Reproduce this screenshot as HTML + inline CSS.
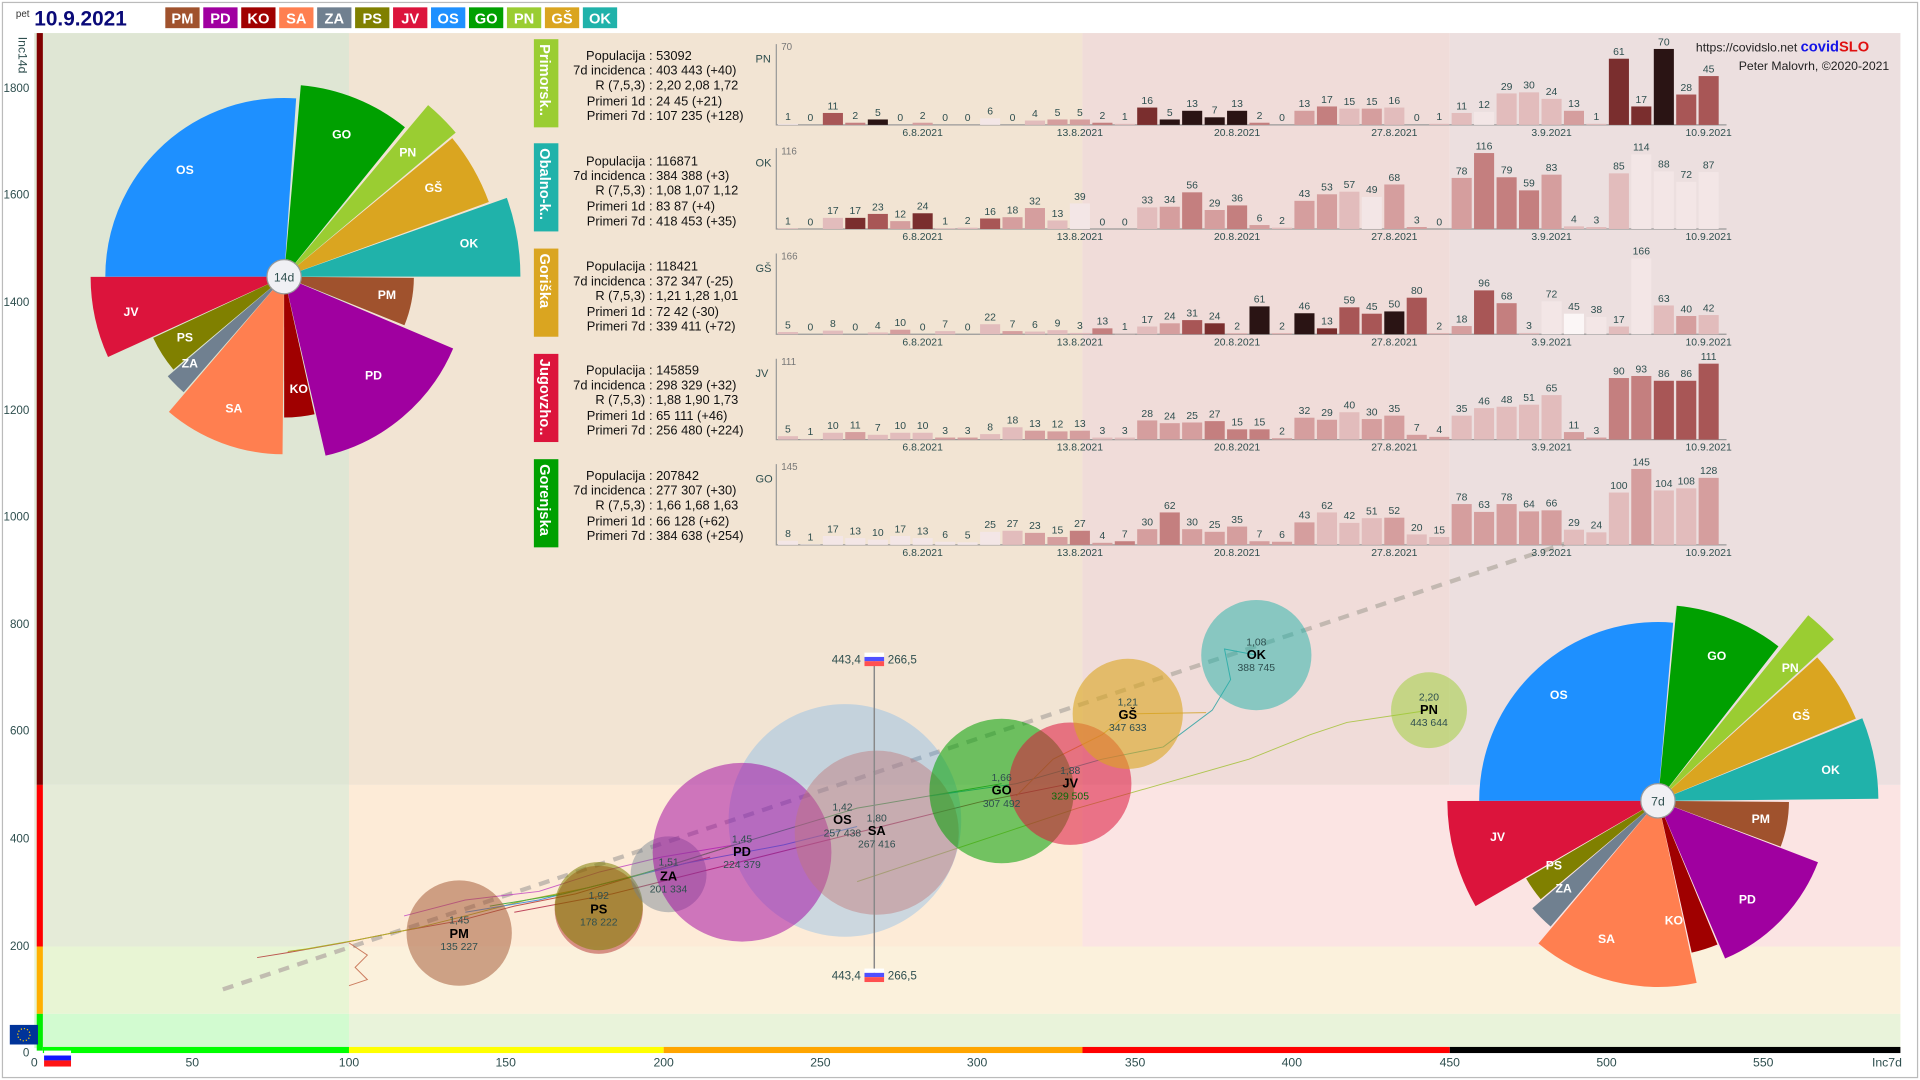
<!DOCTYPE html>
<html><head><meta charset="utf-8"><style>
html,body{margin:0;padding:0;background:#fff;}
svg{display:block;font-family:"Liberation Sans",sans-serif;}
.t{font-size:10.5px;fill:#111;}
.bl{font-size:8.5px;fill:#2f4f4f;text-anchor:middle;}
.tk{font-size:9px;fill:#2f4f4f;text-anchor:middle;}
.yl{font-size:9.5px;fill:#2f4f4f;text-anchor:end;}
.a{fill:#f3e6e6}.b{fill:#e2bcbc}.c{fill:#d59e9e}.d{fill:#c47f7f}.e{fill:#a85656}.f{fill:#7a2e2e}.g{fill:#2a1414}
.pl{font-size:10px;fill:#fff;font-weight:bold;text-anchor:middle;}
.bt{font-size:8.5px;fill:#2f4f4f;text-anchor:middle;}
.bn{font-size:10.5px;fill:#000;font-weight:bold;text-anchor:middle;}
</style></head><body>
<svg width="1920" height="1080" viewBox="0 0 1568 882" xmlns="http://www.w3.org/2000/svg">
<rect x="0" y="0" width="1568" height="882" fill="#fff"/>
<!-- background zones -->
<rect x="28" y="27" width="257" height="614" fill="#dfe6d4"/>
<rect x="285" y="27" width="599" height="614" fill="#f2e4d3"/>
<rect x="884" y="27" width="300" height="614" fill="#f0dcd9"/>
<rect x="1184" y="27" width="368" height="614" fill="#ecdfdf"/>
<rect x="28" y="641" width="257" height="132" fill="#e5ebd8"/>
<rect x="285" y="641" width="599" height="132" fill="#fdebd7"/>
<rect x="884" y="641" width="668" height="132" fill="#fbe4e3"/>
<rect x="28" y="773" width="257" height="55" fill="#e8f5d4"/>
<rect x="285" y="773" width="1267" height="55" fill="#fbf1dc"/>
<rect x="28" y="828" width="257" height="28" fill="#d2fbd0"/>
<rect x="285" y="828" width="1267" height="28" fill="#e9f3da"/>
<!-- left and bottom colour bars -->
<rect x="30" y="27" width="5" height="614" fill="#800000"/>
<rect x="30" y="641" width="5" height="132" fill="#ff0000"/>
<rect x="30" y="773" width="5" height="55" fill="#ffb000"/>
<rect x="30" y="828" width="5" height="30" fill="#00ee00"/>
<rect x="35" y="855" width="250" height="5" fill="#00ff00"/>
<rect x="285" y="855" width="257" height="5" fill="#ffff00"/>
<rect x="542" y="855" width="342" height="5" fill="#ffa500"/>
<rect x="884" y="855" width="300" height="5" fill="#ff0000"/>
<rect x="1184" y="855" width="368" height="5" fill="#000"/>
<rect x="2" y="2" width="1564" height="878" fill="none" stroke="#bbb" stroke-width="1"/>
<!-- header -->
<text x="13" y="14" style="font-size:8px;fill:#333">pet</text>
<text x="28" y="21" style="font-size:17px;font-weight:bold;fill:#0a0a78">10.9.2021</text>
<g style="font-size:12px;font-weight:bold;fill:#fff" text-anchor="middle">
<rect x="135" y="6" width="28" height="17" fill="#a0522d"/><text x="149" y="19">PM</text>
<rect x="166" y="6" width="28" height="17" fill="#a000a0"/><text x="180" y="19">PD</text>
<rect x="197" y="6" width="28" height="17" fill="#a00000"/><text x="211" y="19">KO</text>
<rect x="228" y="6" width="28" height="17" fill="#ff7f50"/><text x="242" y="19">SA</text>
<rect x="259" y="6" width="28" height="17" fill="#708090"/><text x="273" y="19">ZA</text>
<rect x="290" y="6" width="28" height="17" fill="#808000"/><text x="304" y="19">PS</text>
<rect x="321" y="6" width="28" height="17" fill="#dc143c"/><text x="335" y="19">JV</text>
<rect x="352" y="6" width="28" height="17" fill="#1e90ff"/><text x="366" y="19">OS</text>
<rect x="383" y="6" width="28" height="17" fill="#00a000"/><text x="397" y="19">GO</text>
<rect x="414" y="6" width="28" height="17" fill="#9acd32"/><text x="428" y="19">PN</text>
<rect x="445" y="6" width="28" height="17" fill="#daa520"/><text x="459" y="19">GŠ</text>
<rect x="476" y="6" width="28" height="17" fill="#20b2aa"/><text x="490" y="19">OK</text>
</g>
<text x="1385" y="42" style="font-size:10px;fill:#222">https://covidslo.net <tspan style="font-size:12px;font-weight:bold;fill:#1414e6">covid</tspan><tspan style="font-size:12px;font-weight:bold;fill:#e01010">SLO</tspan></text>
<text x="1420" y="57" style="font-size:10px;fill:#222">Peter Malovrh, ©2020-2021</text>
<!-- y axis -->
<text transform="translate(15,30) rotate(90)" style="font-size:10px;fill:#2f4f4f">Inc14d</text>
<g class="yl">
<text x="24" y="75">1800</text><text x="24" y="162">1600</text><text x="24" y="250">1400</text><text x="24" y="338">1200</text><text x="24" y="425">1000</text><text x="24" y="513">800</text><text x="24" y="600">600</text><text x="24" y="688">400</text><text x="24" y="776">200</text><text x="24" y="863">0</text>
</g>
<g class="tk" style="font-size:10px">
<text x="28" y="871">0</text><text x="157" y="871">50</text><text x="285" y="871">100</text><text x="413" y="871">150</text><text x="542" y="871">200</text><text x="670" y="871">250</text><text x="798" y="871">300</text><text x="927" y="871">350</text><text x="1055" y="871">400</text><text x="1184" y="871">450</text><text x="1312" y="871">500</text><text x="1440" y="871">550</text><text x="1541" y="871">Inc7d</text>
</g>
<rect x="8" y="837" width="23" height="16" fill="#003399"/>
<circle cx="19.5" cy="845" r="5" fill="none" stroke="#ffcc00" stroke-width="1" stroke-dasharray="1 1.6"/>
<rect x="36" y="858" width="22" height="4" fill="#fff"/><rect x="36" y="862" width="22" height="4" fill="#1414ff"/><rect x="36" y="866" width="22" height="5" fill="#ff1414"/>

<!-- dashed trend -->
<line x1="182" y1="808" x2="1290" y2="440" stroke="#b8b0a8" stroke-width="3.5" stroke-dasharray="9 7" opacity="0.8"/>
<!-- trails -->
<g fill="none" stroke-width="0.8" opacity="0.8">
<polyline points="210,782 235,778 280,770 330,760 375,752 420,740 470,730 520,715 580,700" stroke="#b03030"/>
<polyline points="235,777 250,775 290,768 340,758 380,748 430,735 480,725 530,712 600,690" stroke="#a0a000"/>
<polyline points="285,770 300,780 290,790 300,800 285,805" stroke="#c06040"/>
<polyline points="330,748 380,735 440,728 490,712 540,700 600,690" stroke="#c040c0"/>
<polyline points="380,745 440,735 500,720 560,705 640,690 700,675" stroke="#2080e0"/>
<polyline points="400,740 460,730 520,715 600,690 700,660 818,640" stroke="#20a020"/>
<polyline points="420,745 500,730 580,710 700,680 800,655 874,640" stroke="#b02040"/>
<polyline points="700,720 760,700 820,680 880,660 950,640 1020,620 1070,600 1100,590 1167,580" stroke="#a0c030"/>
<polyline points="760,650 830,640 900,620 950,610 990,580 1005,555 1000,530 1026,535" stroke="#20a0a0"/>
<polyline points="830,650 860,620 900,600 921,583 985,582" stroke="#d0a020"/>
</g>
<!-- bubbles -->
<circle cx="690" cy="670" r="95" fill="#1e90ff" opacity="0.22"/>
<circle cx="375" cy="762" r="43" fill="#a0522d" opacity="0.5"/>
<circle cx="489" cy="743" r="36" fill="#a00000" opacity="0.4"/>
<circle cx="489" cy="740" r="36" fill="#808000" opacity="0.55"/>
<circle cx="546" cy="714" r="31" fill="#708090" opacity="0.45"/>
<circle cx="606" cy="696" r="73" fill="#a000a0" opacity="0.5"/>
<circle cx="716" cy="680" r="67" fill="#c07878" opacity="0.45"/>
<circle cx="818" cy="646" r="59" fill="#00a000" opacity="0.55"/>
<circle cx="874" cy="640" r="50" fill="#dc143c" opacity="0.55"/>
<circle cx="921" cy="583" r="45" fill="#daa520" opacity="0.6"/>
<circle cx="1026" cy="535" r="45" fill="#20b2aa" opacity="0.5"/>
<circle cx="1167" cy="580" r="31" fill="#9acd32" opacity="0.5"/>
<!-- SI marker -->
<line x1="714" y1="540" x2="714" y2="795" stroke="#888" stroke-width="1.2"/>
<rect x="706" y="533" width="16" height="3.5" fill="#fff"/><rect x="706" y="536.5" width="16" height="3.5" fill="#5050ff"/><rect x="706" y="540" width="16" height="4" fill="#ff5050"/>
<rect x="706" y="791" width="16" height="3.5" fill="#fff"/><rect x="706" y="794.5" width="16" height="3.5" fill="#5050ff"/><rect x="706" y="798" width="16" height="4" fill="#ff5050"/>
<g style="font-size:9.5px;fill:#2f4f4f">
<text x="703" y="542" text-anchor="end">443,4</text><text x="725" y="542">266,5</text>
<text x="703" y="800" text-anchor="end">443,4</text><text x="725" y="800">266,5</text>
</g>
<g>
<text class="bt" x="375" y="754">1,45</text><text class="bn" x="375" y="766">PM</text><text class="bt" x="375" y="776">135 227</text>
<text class="bt" x="489" y="734">1,92</text><text class="bn" x="489" y="746">PS</text><text class="bt" x="489" y="756">178 222</text>
<text class="bt" x="546" y="707">1,51</text><text class="bn" x="546" y="719">ZA</text><text class="bt" x="546" y="729">201 334</text>
<text class="bt" x="606" y="688">1,45</text><text class="bn" x="606" y="699">PD</text><text class="bt" x="606" y="709">224 379</text>
<text class="bt" x="688" y="662">1,42</text><text class="bn" x="688" y="673">OS</text><text class="bt" x="688" y="683">257 438</text>
<text class="bt" x="716" y="671">1,80</text><text class="bn" x="716" y="682">SA</text><text class="bt" x="716" y="692">267 416</text>
<text class="bt" x="818" y="638">1,66</text><text class="bn" x="818" y="649">GO</text><text class="bt" x="818" y="659">307 492</text>
<text class="bt" x="874" y="632">1,88</text><text class="bn" x="874" y="643">JV</text><text class="bt" x="874" y="653" style="fill:#0a6a0a">329 505</text>
<text class="bt" x="921" y="576">1,21</text><text class="bn" x="921" y="587">GŠ</text><text class="bt" x="921" y="597">347 633</text>
<text class="bt" x="1026" y="527">1,08</text><text class="bn" x="1026" y="538">OK</text><text class="bt" x="1026" y="548">388 745</text>
<text class="bt" x="1167" y="572">2,20</text><text class="bn" x="1167" y="583">PN</text><text class="bt" x="1167" y="593">443 644</text>
</g>

<!-- left pie 14d -->
<g fill="none" stroke-width="1">
<circle cx="232" cy="226" r="73" stroke="#1e90ff" stroke-width="146" pathLength="360" stroke-dasharray="94 400" transform="rotate(180 232 226)"/>
<circle cx="232" cy="226" r="78.5" stroke="#00a000" stroke-width="157" pathLength="360" stroke-dasharray="34 400" transform="rotate(275 232 226)"/>
<circle cx="232" cy="226" r="91.5" stroke="#9acd32" stroke-width="183" pathLength="360" stroke-dasharray="10 400" transform="rotate(310 232 226)"/>
<circle cx="232" cy="226" r="89" stroke="#daa520" stroke-width="178" pathLength="360" stroke-dasharray="19.5 400" transform="rotate(320.5 232 226)"/>
<circle cx="232" cy="226" r="96.5" stroke="#20b2aa" stroke-width="193" pathLength="360" stroke-dasharray="19.5 400" transform="rotate(340.5 232 226)"/>
<circle cx="232" cy="226" r="53" stroke="#a0522d" stroke-width="106" pathLength="360" stroke-dasharray="21.5 400" transform="rotate(0.5 232 226)"/>
<circle cx="232" cy="226" r="75" stroke="#a000a0" stroke-width="150" pathLength="360" stroke-dasharray="54 400" transform="rotate(23 232 226)"/>
<circle cx="232" cy="226" r="57.5" stroke="#a00000" stroke-width="115" pathLength="360" stroke-dasharray="12.5 400" transform="rotate(77.5 232 226)"/>
<circle cx="232" cy="226" r="72.5" stroke="#ff7f50" stroke-width="145" pathLength="360" stroke-dasharray="40 400" transform="rotate(90.5 232 226)"/>
<circle cx="232" cy="226" r="62.5" stroke="#708090" stroke-width="125" pathLength="360" stroke-dasharray="8.5 400" transform="rotate(131 232 226)"/>
<circle cx="232" cy="226" r="59" stroke="#808000" stroke-width="118" pathLength="360" stroke-dasharray="15 400" transform="rotate(140 232 226)"/>
<circle cx="232" cy="226" r="79" stroke="#dc143c" stroke-width="158" pathLength="360" stroke-dasharray="24.5 400" transform="rotate(155.5 232 226)"/>
</g>
<circle cx="232" cy="226" r="14" fill="#f0f0f4" stroke="#999" stroke-width="1"/>
<text x="232" y="230" style="font-size:10px;fill:#2f4f4f" text-anchor="middle">14d</text>
<g class="pl">
<text x="151" y="142">OS</text><text x="279" y="113">GO</text><text x="333" y="128">PN</text><text x="354" y="157">GŠ</text><text x="383" y="202">OK</text><text x="316" y="244">PM</text><text x="305" y="310">PD</text><text x="244" y="321">KO</text><text x="191" y="337">SA</text><text x="155" y="300">ZA</text><text x="151" y="279">PS</text><text x="107" y="258">JV</text>
</g>

<!-- right pie 7d -->
<g fill="none">
<circle cx="1354" cy="654" r="73" stroke="#1e90ff" stroke-width="146" pathLength="360" stroke-dasharray="95 400" transform="rotate(180 1354 654)"/>
<circle cx="1354" cy="654" r="80" stroke="#00a000" stroke-width="160" pathLength="360" stroke-dasharray="32.5 400" transform="rotate(275.5 1354 654)"/>
<circle cx="1354" cy="654" r="97.5" stroke="#9acd32" stroke-width="195" pathLength="360" stroke-dasharray="8.5 400" transform="rotate(309 1354 654)"/>
<circle cx="1354" cy="654" r="87.5" stroke="#daa520" stroke-width="175" pathLength="360" stroke-dasharray="19.5 400" transform="rotate(318 1354 654)"/>
<circle cx="1354" cy="654" r="90" stroke="#20b2aa" stroke-width="180" pathLength="360" stroke-dasharray="21.5 400" transform="rotate(338 1354 654)"/>
<circle cx="1354" cy="654" r="53.5" stroke="#a0522d" stroke-width="107" pathLength="360" stroke-dasharray="20 400" transform="rotate(0.5 1354 654)"/>
<circle cx="1354" cy="654" r="70" stroke="#a000a0" stroke-width="140" pathLength="360" stroke-dasharray="46 400" transform="rotate(21 1354 654)"/>
<circle cx="1354" cy="654" r="63.5" stroke="#a00000" stroke-width="127" pathLength="360" stroke-dasharray="10 400" transform="rotate(67.5 1354 654)"/>
<circle cx="1354" cy="654" r="76" stroke="#ff7f50" stroke-width="152" pathLength="360" stroke-dasharray="52 400" transform="rotate(78 1354 654)"/>
<circle cx="1354" cy="654" r="67.5" stroke="#708090" stroke-width="135" pathLength="360" stroke-dasharray="9 400" transform="rotate(130.5 1354 654)"/>
<circle cx="1354" cy="654" r="62.5" stroke="#808000" stroke-width="125" pathLength="360" stroke-dasharray="9.5 400" transform="rotate(140 1354 654)"/>
<circle cx="1354" cy="654" r="86" stroke="#dc143c" stroke-width="172" pathLength="360" stroke-dasharray="30 400" transform="rotate(150 1354 654)"/>
</g>
<circle cx="1354" cy="654" r="14" fill="#f0f0f4" stroke="#999" stroke-width="1"/>
<text x="1354" y="658" style="font-size:10px;fill:#2f4f4f" text-anchor="middle">7d</text>
<g class="pl">
<text x="1273" y="571">OS</text><text x="1402" y="539">GO</text><text x="1462" y="549">PN</text><text x="1471" y="588">GŠ</text><text x="1495" y="632">OK</text><text x="1438" y="672">PM</text><text x="1427" y="738">PD</text><text x="1367" y="755">KO</text><text x="1312" y="770">SA</text><text x="1277" y="729">ZA</text><text x="1269" y="710">PS</text><text x="1223" y="687">JV</text>
</g>

<!-- panel labels / text -->
<g style="font-size:12px;font-weight:bold;fill:#fff">
<rect x="436" y="32" width="20" height="72" fill="#9acd32"/><text transform="translate(441,36) rotate(90)">Primorsk..</text>
<rect x="436" y="117" width="20" height="72" fill="#20b2aa"/><text transform="translate(441,121) rotate(90)">Obalno-k..</text>
<rect x="436" y="203" width="20" height="72" fill="#daa520"/><text transform="translate(441,207) rotate(90)">Goriška</text>
<rect x="436" y="289" width="20" height="72" fill="#dc143c"/><text transform="translate(441,293) rotate(90)">Jugovzho..</text>
<rect x="436" y="375" width="20" height="72" fill="#00a000"/><text transform="translate(441,379) rotate(90)">Gorenjska</text>
</g>
<g class="t">
<g text-anchor="end">
<text x="527" y="49">Populacija</text><text x="527" y="61">7d incidenca</text><text x="527" y="73">R (7,5,3)</text><text x="527" y="86">Primeri 1d</text><text x="527" y="98">Primeri 7d</text>
<text x="527" y="135">Populacija</text><text x="527" y="147">7d incidenca</text><text x="527" y="159">R (7,5,3)</text><text x="527" y="172">Primeri 1d</text><text x="527" y="184">Primeri 7d</text>
<text x="527" y="221">Populacija</text><text x="527" y="233">7d incidenca</text><text x="527" y="245">R (7,5,3)</text><text x="527" y="258">Primeri 1d</text><text x="527" y="270">Primeri 7d</text>
<text x="527" y="306">Populacija</text><text x="527" y="318">7d incidenca</text><text x="527" y="330">R (7,5,3)</text><text x="527" y="343">Primeri 1d</text><text x="527" y="355">Primeri 7d</text>
<text x="527" y="392">Populacija</text><text x="527" y="404">7d incidenca</text><text x="527" y="416">R (7,5,3)</text><text x="527" y="429">Primeri 1d</text><text x="527" y="441">Primeri 7d</text>
</g>
<text x="530" y="49">: 53092</text><text x="530" y="61">: 403 443 (+40)</text><text x="530" y="73">: 2,20 2,08 1,72</text><text x="530" y="86">: 24 45 (+21)</text><text x="530" y="98">: 107 235 (+128)</text>
<text x="530" y="135">: 116871</text><text x="530" y="147">: 384 388 (+3)</text><text x="530" y="159">: 1,08 1,07 1,12</text><text x="530" y="172">: 83 87 (+4)</text><text x="530" y="184">: 418 453 (+35)</text>
<text x="530" y="221">: 118421</text><text x="530" y="233">: 372 347 (-25)</text><text x="530" y="245">: 1,21 1,28 1,01</text><text x="530" y="258">: 72 42 (-30)</text><text x="530" y="270">: 339 411 (+72)</text>
<text x="530" y="306">: 145859</text><text x="530" y="318">: 298 329 (+32)</text><text x="530" y="330">: 1,88 1,90 1,73</text><text x="530" y="343">: 65 111 (+46)</text><text x="530" y="355">: 256 480 (+224)</text>
<text x="530" y="392">: 207842</text><text x="530" y="404">: 277 307 (+30)</text><text x="530" y="416">: 1,66 1,68 1,63</text><text x="530" y="429">: 66 128 (+62)</text><text x="530" y="441">: 384 638 (+254)</text>
</g>

<!-- panel axes -->
<g stroke="#999" stroke-width="1">
<polyline points="634,36 634,102 1410,102" fill="none"/>
<polyline points="634,121 634,187 1410,187" fill="none"/>
<polyline points="634,207 634,273 1410,273" fill="none"/>
<polyline points="634,293 634,359 1410,359" fill="none"/>
<polyline points="634,379 634,445 1410,445" fill="none"/>
</g>
<g style="font-size:9px;fill:#2f4f4f">
<text x="617" y="51">PN</text><text x="617" y="136">OK</text><text x="617" y="222">GŠ</text><text x="617" y="308">JV</text><text x="617" y="394">GO</text>
</g>
<g style="font-size:8px;fill:#777">
<text x="638" y="41">70</text><text x="638" y="126">116</text><text x="638" y="212">166</text><text x="638" y="298">111</text><text x="638" y="384">145</text>
</g>
<g class="tk" style="font-size:8.5px">
<text x="753.5" y="111">6.8.2021</text><text x="881.9" y="111">13.8.2021</text><text x="1010.3" y="111">20.8.2021</text><text x="1138.7" y="111">27.8.2021</text><text x="1267.1" y="111">3.9.2021</text><text x="1395.4" y="111">10.9.2021</text>
<text x="753.5" y="196">6.8.2021</text><text x="881.9" y="196">13.8.2021</text><text x="1010.3" y="196">20.8.2021</text><text x="1138.7" y="196">27.8.2021</text><text x="1267.1" y="196">3.9.2021</text><text x="1395.4" y="196">10.9.2021</text>
<text x="753.5" y="282">6.8.2021</text><text x="881.9" y="282">13.8.2021</text><text x="1010.3" y="282">20.8.2021</text><text x="1138.7" y="282">27.8.2021</text><text x="1267.1" y="282">3.9.2021</text><text x="1395.4" y="282">10.9.2021</text>
<text x="753.5" y="368">6.8.2021</text><text x="881.9" y="368">13.8.2021</text><text x="1010.3" y="368">20.8.2021</text><text x="1138.7" y="368">27.8.2021</text><text x="1267.1" y="368">3.9.2021</text><text x="1395.4" y="368">10.9.2021</text>
<text x="753.5" y="454">6.8.2021</text><text x="881.9" y="454">13.8.2021</text><text x="1010.3" y="454">20.8.2021</text><text x="1138.7" y="454">27.8.2021</text><text x="1267.1" y="454">3.9.2021</text><text x="1395.4" y="454">10.9.2021</text>
</g>

<!-- PN bars k=0.886 -->
<g transform="translate(0,102) scale(1,0.886)">
<rect x="635.3" y="-1" width="16.4" height="1" class="a"/><text class="bl" x="643.5" y="-3" transform="translate(0,-1) scale(1,1.1287)">1</text>
<text class="bl" x="661.8" y="-3" transform="scale(1,1.1287)">0</text>
<rect x="672" y="-11" width="16.4" height="11" class="e"/><text class="bl" x="680.2" y="-3" transform="translate(0,-11) scale(1,1.1287)">11</text>
<rect x="690.3" y="-2" width="16.4" height="2" class="d"/><text class="bl" x="698.5" y="-3" transform="translate(0,-2) scale(1,1.1287)">2</text>
<rect x="708.7" y="-5" width="16.4" height="5" class="g"/><text class="bl" x="716.9" y="-3" transform="translate(0,-5) scale(1,1.1287)">5</text>
<text class="bl" x="735.2" y="-3" transform="scale(1,1.1287)">0</text>
<rect x="745.3" y="-2" width="16.4" height="2" class="c"/><text class="bl" x="753.5" y="-3" transform="translate(0,-2) scale(1,1.1287)">2</text>
<text class="bl" x="771.9" y="-3" transform="scale(1,1.1287)">0</text>
<text class="bl" x="790.2" y="-3" transform="scale(1,1.1287)">0</text>
<rect x="800.4" y="-6" width="16.4" height="6" class="a"/><text class="bl" x="808.6" y="-3" transform="translate(0,-6) scale(1,1.1287)">6</text>
<text class="bl" x="826.9" y="-3" transform="scale(1,1.1287)">0</text>
<rect x="837" y="-4" width="16.4" height="4" class="b"/><text class="bl" x="845.2" y="-3" transform="translate(0,-4) scale(1,1.1287)">4</text>
<rect x="855.4" y="-5" width="16.4" height="5" class="c"/><text class="bl" x="863.6" y="-3" transform="translate(0,-5) scale(1,1.1287)">5</text>
<rect x="873.7" y="-5" width="16.4" height="5" class="c"/><text class="bl" x="881.9" y="-3" transform="translate(0,-5) scale(1,1.1287)">5</text>
<rect x="892.1" y="-2" width="16.4" height="2" class="d"/><text class="bl" x="900.3" y="-3" transform="translate(0,-2) scale(1,1.1287)">2</text>
<rect x="910.4" y="-1" width="16.4" height="1" class="b"/><text class="bl" x="918.6" y="-3" transform="translate(0,-1) scale(1,1.1287)">1</text>
<rect x="928.7" y="-16" width="16.4" height="16" class="f"/><text class="bl" x="936.9" y="-3" transform="translate(0,-16) scale(1,1.1287)">16</text>
<rect x="947.1" y="-5" width="16.4" height="5" class="g"/><text class="bl" x="955.3" y="-3" transform="translate(0,-5) scale(1,1.1287)">5</text>
<rect x="965.4" y="-13" width="16.4" height="13" class="g"/><text class="bl" x="973.6" y="-3" transform="translate(0,-13) scale(1,1.1287)">13</text>
<rect x="983.8" y="-7" width="16.4" height="7" class="g"/><text class="bl" x="992" y="-3" transform="translate(0,-7) scale(1,1.1287)">7</text>
<rect x="1002.1" y="-13" width="16.4" height="13" class="g"/><text class="bl" x="1010.3" y="-3" transform="translate(0,-13) scale(1,1.1287)">13</text>
<rect x="1020.4" y="-2" width="16.4" height="2" class="d"/><text class="bl" x="1028.6" y="-3" transform="translate(0,-2) scale(1,1.1287)">2</text>
<text class="bl" x="1047" y="-3" transform="scale(1,1.1287)">0</text>
<rect x="1057.1" y="-13" width="16.4" height="13" class="c"/><text class="bl" x="1065.3" y="-3" transform="translate(0,-13) scale(1,1.1287)">13</text>
<rect x="1075.5" y="-17" width="16.4" height="17" class="d"/><text class="bl" x="1083.7" y="-3" transform="translate(0,-17) scale(1,1.1287)">17</text>
<rect x="1093.8" y="-15" width="16.4" height="15" class="b"/><text class="bl" x="1102" y="-3" transform="translate(0,-15) scale(1,1.1287)">15</text>
<rect x="1112.1" y="-15" width="16.4" height="15" class="c"/><text class="bl" x="1120.3" y="-3" transform="translate(0,-15) scale(1,1.1287)">15</text>
<rect x="1130.5" y="-16" width="16.4" height="16" class="b"/><text class="bl" x="1138.7" y="-3" transform="translate(0,-16) scale(1,1.1287)">16</text>
<text class="bl" x="1157" y="-3" transform="scale(1,1.1287)">0</text>
<rect x="1167.2" y="-1" width="16.4" height="1" class="b"/><text class="bl" x="1175.4" y="-3" transform="translate(0,-1) scale(1,1.1287)">1</text>
<rect x="1185.5" y="-11" width="16.4" height="11" class="b"/><text class="bl" x="1193.7" y="-3" transform="translate(0,-11) scale(1,1.1287)">11</text>
<rect x="1203.8" y="-12" width="16.4" height="12" class="a"/><text class="bl" x="1212" y="-3" transform="translate(0,-12) scale(1,1.1287)">12</text>
<rect x="1222.2" y="-29" width="16.4" height="29" class="b"/><text class="bl" x="1230.4" y="-3" transform="translate(0,-29) scale(1,1.1287)">29</text>
<rect x="1240.5" y="-30" width="16.4" height="30" class="b"/><text class="bl" x="1248.7" y="-3" transform="translate(0,-30) scale(1,1.1287)">30</text>
<rect x="1258.9" y="-24" width="16.4" height="24" class="b"/><text class="bl" x="1267.1" y="-3" transform="translate(0,-24) scale(1,1.1287)">24</text>
<rect x="1277.2" y="-13" width="16.4" height="13" class="c"/><text class="bl" x="1285.4" y="-3" transform="translate(0,-13) scale(1,1.1287)">13</text>
<rect x="1295.5" y="-1" width="16.4" height="1" class="b"/><text class="bl" x="1303.7" y="-3" transform="translate(0,-1) scale(1,1.1287)">1</text>
<rect x="1313.9" y="-61" width="16.4" height="61" class="f"/><text class="bl" x="1322.1" y="-3" transform="translate(0,-61) scale(1,1.1287)">61</text>
<rect x="1332.2" y="-17" width="16.4" height="17" class="f"/><text class="bl" x="1340.4" y="-3" transform="translate(0,-17) scale(1,1.1287)">17</text>
<rect x="1350.6" y="-70" width="16.4" height="70" class="g"/><text class="bl" x="1358.8" y="-3" transform="translate(0,-70) scale(1,1.1287)">70</text>
<rect x="1368.9" y="-28" width="16.4" height="28" class="e"/><text class="bl" x="1377.1" y="-3" transform="translate(0,-28) scale(1,1.1287)">28</text>
<rect x="1387.2" y="-45" width="16.4" height="45" class="e"/><text class="bl" x="1395.4" y="-3" transform="translate(0,-45) scale(1,1.1287)">45</text>
</g>

<!-- OK bars k=0.5345 -->
<g transform="translate(0,187) scale(1,0.5345)">
<rect x="635.3" y="-1" width="16.4" height="1" class="b"/><text class="bl" x="643.5" y="-3" transform="translate(0,-1) scale(1,1.871)">1</text>
<text class="bl" x="661.8" y="-3" transform="scale(1,1.871)">0</text>
<rect x="672" y="-17" width="16.4" height="17" class="b"/><text class="bl" x="680.2" y="-3" transform="translate(0,-17) scale(1,1.871)">17</text>
<rect x="690.3" y="-17" width="16.4" height="17" class="f"/><text class="bl" x="698.5" y="-3" transform="translate(0,-17) scale(1,1.871)">17</text>
<rect x="708.7" y="-23" width="16.4" height="23" class="e"/><text class="bl" x="716.9" y="-3" transform="translate(0,-23) scale(1,1.871)">23</text>
<rect x="727" y="-12" width="16.4" height="12" class="c"/><text class="bl" x="735.2" y="-3" transform="translate(0,-12) scale(1,1.871)">12</text>
<rect x="745.3" y="-24" width="16.4" height="24" class="f"/><text class="bl" x="753.5" y="-3" transform="translate(0,-24) scale(1,1.871)">24</text>
<rect x="763.7" y="-1" width="16.4" height="1" class="b"/><text class="bl" x="771.9" y="-3" transform="translate(0,-1) scale(1,1.871)">1</text>
<rect x="782" y="-2" width="16.4" height="2" class="b"/><text class="bl" x="790.2" y="-3" transform="translate(0,-2) scale(1,1.871)">2</text>
<rect x="800.4" y="-16" width="16.4" height="16" class="e"/><text class="bl" x="808.6" y="-3" transform="translate(0,-16) scale(1,1.871)">16</text>
<rect x="818.7" y="-18" width="16.4" height="18" class="c"/><text class="bl" x="826.9" y="-3" transform="translate(0,-18) scale(1,1.871)">18</text>
<rect x="837" y="-32" width="16.4" height="32" class="c"/><text class="bl" x="845.2" y="-3" transform="translate(0,-32) scale(1,1.871)">32</text>
<rect x="855.4" y="-13" width="16.4" height="13" class="b"/><text class="bl" x="863.6" y="-3" transform="translate(0,-13) scale(1,1.871)">13</text>
<rect x="873.7" y="-39" width="16.4" height="39" class="a"/><text class="bl" x="881.9" y="-3" transform="translate(0,-39) scale(1,1.871)">39</text>
<text class="bl" x="900.3" y="-3" transform="scale(1,1.871)">0</text>
<text class="bl" x="918.6" y="-3" transform="scale(1,1.871)">0</text>
<rect x="928.7" y="-33" width="16.4" height="33" class="b"/><text class="bl" x="936.9" y="-3" transform="translate(0,-33) scale(1,1.871)">33</text>
<rect x="947.1" y="-34" width="16.4" height="34" class="c"/><text class="bl" x="955.3" y="-3" transform="translate(0,-34) scale(1,1.871)">34</text>
<rect x="965.4" y="-56" width="16.4" height="56" class="d"/><text class="bl" x="973.6" y="-3" transform="translate(0,-56) scale(1,1.871)">56</text>
<rect x="983.8" y="-29" width="16.4" height="29" class="c"/><text class="bl" x="992" y="-3" transform="translate(0,-29) scale(1,1.871)">29</text>
<rect x="1002.1" y="-36" width="16.4" height="36" class="d"/><text class="bl" x="1010.3" y="-3" transform="translate(0,-36) scale(1,1.871)">36</text>
<rect x="1020.4" y="-6" width="16.4" height="6" class="c"/><text class="bl" x="1028.6" y="-3" transform="translate(0,-6) scale(1,1.871)">6</text>
<rect x="1038.8" y="-2" width="16.4" height="2" class="b"/><text class="bl" x="1047" y="-3" transform="translate(0,-2) scale(1,1.871)">2</text>
<rect x="1057.1" y="-43" width="16.4" height="43" class="c"/><text class="bl" x="1065.3" y="-3" transform="translate(0,-43) scale(1,1.871)">43</text>
<rect x="1075.5" y="-53" width="16.4" height="53" class="c"/><text class="bl" x="1083.7" y="-3" transform="translate(0,-53) scale(1,1.871)">53</text>
<rect x="1093.8" y="-57" width="16.4" height="57" class="b"/><text class="bl" x="1102" y="-3" transform="translate(0,-57) scale(1,1.871)">57</text>
<rect x="1112.1" y="-49" width="16.4" height="49" class="a"/><text class="bl" x="1120.3" y="-3" transform="translate(0,-49) scale(1,1.871)">49</text>
<rect x="1130.5" y="-68" width="16.4" height="68" class="c"/><text class="bl" x="1138.7" y="-3" transform="translate(0,-68) scale(1,1.871)">68</text>
<rect x="1148.8" y="-3" width="16.4" height="3" class="c"/><text class="bl" x="1157" y="-3" transform="translate(0,-3) scale(1,1.871)">3</text>
<text class="bl" x="1175.4" y="-3" transform="scale(1,1.871)">0</text>
<rect x="1185.5" y="-78" width="16.4" height="78" class="c"/><text class="bl" x="1193.7" y="-3" transform="translate(0,-78) scale(1,1.871)">78</text>
<rect x="1203.8" y="-116" width="16.4" height="116" class="d"/><text class="bl" x="1212" y="-3" transform="translate(0,-116) scale(1,1.871)">116</text>
<rect x="1222.2" y="-79" width="16.4" height="79" class="d"/><text class="bl" x="1230.4" y="-3" transform="translate(0,-79) scale(1,1.871)">79</text>
<rect x="1240.5" y="-59" width="16.4" height="59" class="d"/><text class="bl" x="1248.7" y="-3" transform="translate(0,-59) scale(1,1.871)">59</text>
<rect x="1258.9" y="-83" width="16.4" height="83" class="c"/><text class="bl" x="1267.1" y="-3" transform="translate(0,-83) scale(1,1.871)">83</text>
<rect x="1277.2" y="-4" width="16.4" height="4" class="b"/><text class="bl" x="1285.4" y="-3" transform="translate(0,-4) scale(1,1.871)">4</text>
<rect x="1295.5" y="-3" width="16.4" height="3" class="b"/><text class="bl" x="1303.7" y="-3" transform="translate(0,-3) scale(1,1.871)">3</text>
<rect x="1313.9" y="-85" width="16.4" height="85" class="b"/><text class="bl" x="1322.1" y="-3" transform="translate(0,-85) scale(1,1.871)">85</text>
<rect x="1332.2" y="-114" width="16.4" height="114" class="a"/><text class="bl" x="1340.4" y="-3" transform="translate(0,-114) scale(1,1.871)">114</text>
<rect x="1350.6" y="-88" width="16.4" height="88" class="a"/><text class="bl" x="1358.8" y="-3" transform="translate(0,-88) scale(1,1.871)">88</text>
<rect x="1368.9" y="-72" width="16.4" height="72" class="a"/><text class="bl" x="1377.1" y="-3" transform="translate(0,-72) scale(1,1.871)">72</text>
<rect x="1387.2" y="-87" width="16.4" height="87" class="a"/><text class="bl" x="1395.4" y="-3" transform="translate(0,-87) scale(1,1.871)">87</text>
</g>

<!-- GŠ bars k=0.3735 -->
<g transform="translate(0,273) scale(1,0.3735)">
<rect x="635.3" y="-5" width="16.4" height="5" class="b"/><text class="bl" x="643.5" y="-3" transform="translate(0,-5) scale(1,2.677)">5</text>
<text class="bl" x="661.8" y="-3" transform="scale(1,2.677)">0</text>
<rect x="672" y="-8" width="16.4" height="8" class="b"/><text class="bl" x="680.2" y="-3" transform="translate(0,-8) scale(1,2.677)">8</text>
<text class="bl" x="698.5" y="-3" transform="scale(1,2.677)">0</text>
<rect x="708.7" y="-4" width="16.4" height="4" class="b"/><text class="bl" x="716.9" y="-3" transform="translate(0,-4) scale(1,2.677)">4</text>
<rect x="727" y="-10" width="16.4" height="10" class="c"/><text class="bl" x="735.2" y="-3" transform="translate(0,-10) scale(1,2.677)">10</text>
<text class="bl" x="753.5" y="-3" transform="scale(1,2.677)">0</text>
<rect x="763.7" y="-7" width="16.4" height="7" class="b"/><text class="bl" x="771.9" y="-3" transform="translate(0,-7) scale(1,2.677)">7</text>
<text class="bl" x="790.2" y="-3" transform="scale(1,2.677)">0</text>
<rect x="800.4" y="-22" width="16.4" height="22" class="b"/><text class="bl" x="808.6" y="-3" transform="translate(0,-22) scale(1,2.677)">22</text>
<rect x="818.7" y="-7" width="16.4" height="7" class="c"/><text class="bl" x="826.9" y="-3" transform="translate(0,-7) scale(1,2.677)">7</text>
<rect x="837" y="-6" width="16.4" height="6" class="b"/><text class="bl" x="845.2" y="-3" transform="translate(0,-6) scale(1,2.677)">6</text>
<rect x="855.4" y="-9" width="16.4" height="9" class="b"/><text class="bl" x="863.6" y="-3" transform="translate(0,-9) scale(1,2.677)">9</text>
<rect x="873.7" y="-3" width="16.4" height="3" class="b"/><text class="bl" x="881.9" y="-3" transform="translate(0,-3) scale(1,2.677)">3</text>
<rect x="892.1" y="-13" width="16.4" height="13" class="d"/><text class="bl" x="900.3" y="-3" transform="translate(0,-13) scale(1,2.677)">13</text>
<rect x="910.4" y="-1" width="16.4" height="1" class="b"/><text class="bl" x="918.6" y="-3" transform="translate(0,-1) scale(1,2.677)">1</text>
<rect x="928.7" y="-17" width="16.4" height="17" class="b"/><text class="bl" x="936.9" y="-3" transform="translate(0,-17) scale(1,2.677)">17</text>
<rect x="947.1" y="-24" width="16.4" height="24" class="c"/><text class="bl" x="955.3" y="-3" transform="translate(0,-24) scale(1,2.677)">24</text>
<rect x="965.4" y="-31" width="16.4" height="31" class="e"/><text class="bl" x="973.6" y="-3" transform="translate(0,-31) scale(1,2.677)">31</text>
<rect x="983.8" y="-24" width="16.4" height="24" class="f"/><text class="bl" x="992" y="-3" transform="translate(0,-24) scale(1,2.677)">24</text>
<rect x="1002.1" y="-2" width="16.4" height="2" class="c"/><text class="bl" x="1010.3" y="-3" transform="translate(0,-2) scale(1,2.677)">2</text>
<rect x="1020.4" y="-61" width="16.4" height="61" class="g"/><text class="bl" x="1028.6" y="-3" transform="translate(0,-61) scale(1,2.677)">61</text>
<rect x="1038.8" y="-2" width="16.4" height="2" class="c"/><text class="bl" x="1047" y="-3" transform="translate(0,-2) scale(1,2.677)">2</text>
<rect x="1057.1" y="-46" width="16.4" height="46" class="g"/><text class="bl" x="1065.3" y="-3" transform="translate(0,-46) scale(1,2.677)">46</text>
<rect x="1075.5" y="-13" width="16.4" height="13" class="f"/><text class="bl" x="1083.7" y="-3" transform="translate(0,-13) scale(1,2.677)">13</text>
<rect x="1093.8" y="-59" width="16.4" height="59" class="e"/><text class="bl" x="1102" y="-3" transform="translate(0,-59) scale(1,2.677)">59</text>
<rect x="1112.1" y="-45" width="16.4" height="45" class="e"/><text class="bl" x="1120.3" y="-3" transform="translate(0,-45) scale(1,2.677)">45</text>
<rect x="1130.5" y="-50" width="16.4" height="50" class="g"/><text class="bl" x="1138.7" y="-3" transform="translate(0,-50) scale(1,2.677)">50</text>
<rect x="1148.8" y="-80" width="16.4" height="80" class="e"/><text class="bl" x="1157" y="-3" transform="translate(0,-80) scale(1,2.677)">80</text>
<rect x="1167.2" y="-2" width="16.4" height="2" class="c"/><text class="bl" x="1175.4" y="-3" transform="translate(0,-2) scale(1,2.677)">2</text>
<rect x="1185.5" y="-18" width="16.4" height="18" class="c"/><text class="bl" x="1193.7" y="-3" transform="translate(0,-18) scale(1,2.677)">18</text>
<rect x="1203.8" y="-96" width="16.4" height="96" class="e"/><text class="bl" x="1212" y="-3" transform="translate(0,-96) scale(1,2.677)">96</text>
<rect x="1222.2" y="-68" width="16.4" height="68" class="d"/><text class="bl" x="1230.4" y="-3" transform="translate(0,-68) scale(1,2.677)">68</text>
<rect x="1240.5" y="-3" width="16.4" height="3" class="b"/><text class="bl" x="1248.7" y="-3" transform="translate(0,-3) scale(1,2.677)">3</text>
<rect x="1258.9" y="-72" width="16.4" height="72" class="a"/><text class="bl" x="1267.1" y="-3" transform="translate(0,-72) scale(1,2.677)">72</text>
<rect x="1277.2" y="-45" width="16.4" height="45" class="a" style="fill:#fbf6f6"/><text class="bl" x="1285.4" y="-3" transform="translate(0,-45) scale(1,2.677)">45</text>
<rect x="1295.5" y="-38" width="16.4" height="38" class="a"/><text class="bl" x="1303.7" y="-3" transform="translate(0,-38) scale(1,2.677)">38</text>
<rect x="1313.9" y="-17" width="16.4" height="17" class="b"/><text class="bl" x="1322.1" y="-3" transform="translate(0,-17) scale(1,2.677)">17</text>
<rect x="1332.2" y="-166" width="16.4" height="166" class="a"/><text class="bl" x="1340.4" y="-3" transform="translate(0,-166) scale(1,2.677)">166</text>
<rect x="1350.6" y="-63" width="16.4" height="63" class="b"/><text class="bl" x="1358.8" y="-3" transform="translate(0,-63) scale(1,2.677)">63</text>
<rect x="1368.9" y="-40" width="16.4" height="40" class="c"/><text class="bl" x="1377.1" y="-3" transform="translate(0,-40) scale(1,2.677)">40</text>
<rect x="1387.2" y="-42" width="16.4" height="42" class="b"/><text class="bl" x="1395.4" y="-3" transform="translate(0,-42) scale(1,2.677)">42</text>
</g>

<!-- JV bars k=0.5586 -->
<g transform="translate(0,359) scale(1,0.5586)">
<rect x="635.3" y="-5" width="16.4" height="5" class="b"/><text class="bl" x="643.5" y="-3" transform="translate(0,-5) scale(1,1.79)">5</text>
<rect x="653.6" y="-1" width="16.4" height="1" class="b"/><text class="bl" x="661.8" y="-3" transform="translate(0,-1) scale(1,1.79)">1</text>
<rect x="672" y="-10" width="16.4" height="10" class="b"/><text class="bl" x="680.2" y="-3" transform="translate(0,-10) scale(1,1.79)">10</text>
<rect x="690.3" y="-11" width="16.4" height="11" class="c"/><text class="bl" x="698.5" y="-3" transform="translate(0,-11) scale(1,1.79)">11</text>
<rect x="708.7" y="-7" width="16.4" height="7" class="b"/><text class="bl" x="716.9" y="-3" transform="translate(0,-7) scale(1,1.79)">7</text>
<rect x="727" y="-10" width="16.4" height="10" class="b"/><text class="bl" x="735.2" y="-3" transform="translate(0,-10) scale(1,1.79)">10</text>
<rect x="745.3" y="-10" width="16.4" height="10" class="b"/><text class="bl" x="753.5" y="-3" transform="translate(0,-10) scale(1,1.79)">10</text>
<rect x="763.7" y="-3" width="16.4" height="3" class="c"/><text class="bl" x="771.9" y="-3" transform="translate(0,-3) scale(1,1.79)">3</text>
<rect x="782" y="-3" width="16.4" height="3" class="c"/><text class="bl" x="790.2" y="-3" transform="translate(0,-3) scale(1,1.79)">3</text>
<rect x="800.4" y="-8" width="16.4" height="8" class="b"/><text class="bl" x="808.6" y="-3" transform="translate(0,-8) scale(1,1.79)">8</text>
<rect x="818.7" y="-18" width="16.4" height="18" class="b"/><text class="bl" x="826.9" y="-3" transform="translate(0,-18) scale(1,1.79)">18</text>
<rect x="837" y="-13" width="16.4" height="13" class="c"/><text class="bl" x="845.2" y="-3" transform="translate(0,-13) scale(1,1.79)">13</text>
<rect x="855.4" y="-12" width="16.4" height="12" class="c"/><text class="bl" x="863.6" y="-3" transform="translate(0,-12) scale(1,1.79)">12</text>
<rect x="873.7" y="-13" width="16.4" height="13" class="c"/><text class="bl" x="881.9" y="-3" transform="translate(0,-13) scale(1,1.79)">13</text>
<rect x="892.1" y="-3" width="16.4" height="3" class="b"/><text class="bl" x="900.3" y="-3" transform="translate(0,-3) scale(1,1.79)">3</text>
<rect x="910.4" y="-3" width="16.4" height="3" class="b"/><text class="bl" x="918.6" y="-3" transform="translate(0,-3) scale(1,1.79)">3</text>
<rect x="928.7" y="-28" width="16.4" height="28" class="c"/><text class="bl" x="936.9" y="-3" transform="translate(0,-28) scale(1,1.79)">28</text>
<rect x="947.1" y="-24" width="16.4" height="24" class="c"/><text class="bl" x="955.3" y="-3" transform="translate(0,-24) scale(1,1.79)">24</text>
<rect x="965.4" y="-25" width="16.4" height="25" class="c"/><text class="bl" x="973.6" y="-3" transform="translate(0,-25) scale(1,1.79)">25</text>
<rect x="983.8" y="-27" width="16.4" height="27" class="d"/><text class="bl" x="992" y="-3" transform="translate(0,-27) scale(1,1.79)">27</text>
<rect x="1002.1" y="-15" width="16.4" height="15" class="d"/><text class="bl" x="1010.3" y="-3" transform="translate(0,-15) scale(1,1.79)">15</text>
<rect x="1020.4" y="-15" width="16.4" height="15" class="d"/><text class="bl" x="1028.6" y="-3" transform="translate(0,-15) scale(1,1.79)">15</text>
<rect x="1038.8" y="-2" width="16.4" height="2" class="c"/><text class="bl" x="1047" y="-3" transform="translate(0,-2) scale(1,1.79)">2</text>
<rect x="1057.1" y="-32" width="16.4" height="32" class="c"/><text class="bl" x="1065.3" y="-3" transform="translate(0,-32) scale(1,1.79)">32</text>
<rect x="1075.5" y="-29" width="16.4" height="29" class="c"/><text class="bl" x="1083.7" y="-3" transform="translate(0,-29) scale(1,1.79)">29</text>
<rect x="1093.8" y="-40" width="16.4" height="40" class="b"/><text class="bl" x="1102" y="-3" transform="translate(0,-40) scale(1,1.79)">40</text>
<rect x="1112.1" y="-30" width="16.4" height="30" class="c"/><text class="bl" x="1120.3" y="-3" transform="translate(0,-30) scale(1,1.79)">30</text>
<rect x="1130.5" y="-35" width="16.4" height="35" class="c"/><text class="bl" x="1138.7" y="-3" transform="translate(0,-35) scale(1,1.79)">35</text>
<rect x="1148.8" y="-7" width="16.4" height="7" class="c"/><text class="bl" x="1157" y="-3" transform="translate(0,-7) scale(1,1.79)">7</text>
<rect x="1167.2" y="-4" width="16.4" height="4" class="c"/><text class="bl" x="1175.4" y="-3" transform="translate(0,-4) scale(1,1.79)">4</text>
<rect x="1185.5" y="-35" width="16.4" height="35" class="b"/><text class="bl" x="1193.7" y="-3" transform="translate(0,-35) scale(1,1.79)">35</text>
<rect x="1203.8" y="-46" width="16.4" height="46" class="b"/><text class="bl" x="1212" y="-3" transform="translate(0,-46) scale(1,1.79)">46</text>
<rect x="1222.2" y="-48" width="16.4" height="48" class="b"/><text class="bl" x="1230.4" y="-3" transform="translate(0,-48) scale(1,1.79)">48</text>
<rect x="1240.5" y="-51" width="16.4" height="51" class="b"/><text class="bl" x="1248.7" y="-3" transform="translate(0,-51) scale(1,1.79)">51</text>
<rect x="1258.9" y="-65" width="16.4" height="65" class="b"/><text class="bl" x="1267.1" y="-3" transform="translate(0,-65) scale(1,1.79)">65</text>
<rect x="1277.2" y="-11" width="16.4" height="11" class="c"/><text class="bl" x="1285.4" y="-3" transform="translate(0,-11) scale(1,1.79)">11</text>
<rect x="1295.5" y="-3" width="16.4" height="3" class="c"/><text class="bl" x="1303.7" y="-3" transform="translate(0,-3) scale(1,1.79)">3</text>
<rect x="1313.9" y="-90" width="16.4" height="90" class="d"/><text class="bl" x="1322.1" y="-3" transform="translate(0,-90) scale(1,1.79)">90</text>
<rect x="1332.2" y="-93" width="16.4" height="93" class="d"/><text class="bl" x="1340.4" y="-3" transform="translate(0,-93) scale(1,1.79)">93</text>
<rect x="1350.6" y="-86" width="16.4" height="86" class="e"/><text class="bl" x="1358.8" y="-3" transform="translate(0,-86) scale(1,1.79)">86</text>
<rect x="1368.9" y="-86" width="16.4" height="86" class="e"/><text class="bl" x="1377.1" y="-3" transform="translate(0,-86) scale(1,1.79)">86</text>
<rect x="1387.2" y="-111" width="16.4" height="111" class="e"/><text class="bl" x="1395.4" y="-3" transform="translate(0,-111) scale(1,1.79)">111</text>
</g>

<!-- GO bars k=0.4276 -->
<g transform="translate(0,445) scale(1,0.4276)">
<rect x="635.3" y="-8" width="16.4" height="8" class="a"/><text class="bl" x="643.5" y="-3" transform="translate(0,-8) scale(1,2.339)">8</text>
<rect x="653.6" y="-1" width="16.4" height="1" class="a"/><text class="bl" x="661.8" y="-3" transform="translate(0,-1) scale(1,2.339)">1</text>
<rect x="672" y="-17" width="16.4" height="17" class="a"/><text class="bl" x="680.2" y="-3" transform="translate(0,-17) scale(1,2.339)">17</text>
<rect x="690.3" y="-13" width="16.4" height="13" class="a"/><text class="bl" x="698.5" y="-3" transform="translate(0,-13) scale(1,2.339)">13</text>
<rect x="708.7" y="-10" width="16.4" height="10" class="a"/><text class="bl" x="716.9" y="-3" transform="translate(0,-10) scale(1,2.339)">10</text>
<rect x="727" y="-17" width="16.4" height="17" class="a"/><text class="bl" x="735.2" y="-3" transform="translate(0,-17) scale(1,2.339)">17</text>
<rect x="745.3" y="-13" width="16.4" height="13" class="a"/><text class="bl" x="753.5" y="-3" transform="translate(0,-13) scale(1,2.339)">13</text>
<rect x="763.7" y="-6" width="16.4" height="6" class="a"/><text class="bl" x="771.9" y="-3" transform="translate(0,-6) scale(1,2.339)">6</text>
<rect x="782" y="-5" width="16.4" height="5" class="a"/><text class="bl" x="790.2" y="-3" transform="translate(0,-5) scale(1,2.339)">5</text>
<rect x="800.4" y="-25" width="16.4" height="25" class="a"/><text class="bl" x="808.6" y="-3" transform="translate(0,-25) scale(1,2.339)">25</text>
<rect x="818.7" y="-27" width="16.4" height="27" class="b"/><text class="bl" x="826.9" y="-3" transform="translate(0,-27) scale(1,2.339)">27</text>
<rect x="837" y="-23" width="16.4" height="23" class="c"/><text class="bl" x="845.2" y="-3" transform="translate(0,-23) scale(1,2.339)">23</text>
<rect x="855.4" y="-15" width="16.4" height="15" class="c"/><text class="bl" x="863.6" y="-3" transform="translate(0,-15) scale(1,2.339)">15</text>
<rect x="873.7" y="-27" width="16.4" height="27" class="d"/><text class="bl" x="881.9" y="-3" transform="translate(0,-27) scale(1,2.339)">27</text>
<rect x="892.1" y="-4" width="16.4" height="4" class="c"/><text class="bl" x="900.3" y="-3" transform="translate(0,-4) scale(1,2.339)">4</text>
<rect x="910.4" y="-7" width="16.4" height="7" class="d"/><text class="bl" x="918.6" y="-3" transform="translate(0,-7) scale(1,2.339)">7</text>
<rect x="928.7" y="-30" width="16.4" height="30" class="c"/><text class="bl" x="936.9" y="-3" transform="translate(0,-30) scale(1,2.339)">30</text>
<rect x="947.1" y="-62" width="16.4" height="62" class="d"/><text class="bl" x="955.3" y="-3" transform="translate(0,-62) scale(1,2.339)">62</text>
<rect x="965.4" y="-30" width="16.4" height="30" class="c"/><text class="bl" x="973.6" y="-3" transform="translate(0,-30) scale(1,2.339)">30</text>
<rect x="983.8" y="-25" width="16.4" height="25" class="c"/><text class="bl" x="992" y="-3" transform="translate(0,-25) scale(1,2.339)">25</text>
<rect x="1002.1" y="-35" width="16.4" height="35" class="c"/><text class="bl" x="1010.3" y="-3" transform="translate(0,-35) scale(1,2.339)">35</text>
<rect x="1020.4" y="-7" width="16.4" height="7" class="c"/><text class="bl" x="1028.6" y="-3" transform="translate(0,-7) scale(1,2.339)">7</text>
<rect x="1038.8" y="-6" width="16.4" height="6" class="c"/><text class="bl" x="1047" y="-3" transform="translate(0,-6) scale(1,2.339)">6</text>
<rect x="1057.1" y="-43" width="16.4" height="43" class="c"/><text class="bl" x="1065.3" y="-3" transform="translate(0,-43) scale(1,2.339)">43</text>
<rect x="1075.5" y="-62" width="16.4" height="62" class="b"/><text class="bl" x="1083.7" y="-3" transform="translate(0,-62) scale(1,2.339)">62</text>
<rect x="1093.8" y="-42" width="16.4" height="42" class="b"/><text class="bl" x="1102" y="-3" transform="translate(0,-42) scale(1,2.339)">42</text>
<rect x="1112.1" y="-51" width="16.4" height="51" class="b"/><text class="bl" x="1120.3" y="-3" transform="translate(0,-51) scale(1,2.339)">51</text>
<rect x="1130.5" y="-52" width="16.4" height="52" class="c"/><text class="bl" x="1138.7" y="-3" transform="translate(0,-52) scale(1,2.339)">52</text>
<rect x="1148.8" y="-20" width="16.4" height="20" class="b"/><text class="bl" x="1157" y="-3" transform="translate(0,-20) scale(1,2.339)">20</text>
<rect x="1167.2" y="-15" width="16.4" height="15" class="b"/><text class="bl" x="1175.4" y="-3" transform="translate(0,-15) scale(1,2.339)">15</text>
<rect x="1185.5" y="-78" width="16.4" height="78" class="c"/><text class="bl" x="1193.7" y="-3" transform="translate(0,-78) scale(1,2.339)">78</text>
<rect x="1203.8" y="-63" width="16.4" height="63" class="c"/><text class="bl" x="1212" y="-3" transform="translate(0,-63) scale(1,2.339)">63</text>
<rect x="1222.2" y="-78" width="16.4" height="78" class="c"/><text class="bl" x="1230.4" y="-3" transform="translate(0,-78) scale(1,2.339)">78</text>
<rect x="1240.5" y="-64" width="16.4" height="64" class="c"/><text class="bl" x="1248.7" y="-3" transform="translate(0,-64) scale(1,2.339)">64</text>
<rect x="1258.9" y="-66" width="16.4" height="66" class="c"/><text class="bl" x="1267.1" y="-3" transform="translate(0,-66) scale(1,2.339)">66</text>
<rect x="1277.2" y="-29" width="16.4" height="29" class="b"/><text class="bl" x="1285.4" y="-3" transform="translate(0,-29) scale(1,2.339)">29</text>
<rect x="1295.5" y="-24" width="16.4" height="24" class="b"/><text class="bl" x="1303.7" y="-3" transform="translate(0,-24) scale(1,2.339)">24</text>
<rect x="1313.9" y="-100" width="16.4" height="100" class="b"/><text class="bl" x="1322.1" y="-3" transform="translate(0,-100) scale(1,2.339)">100</text>
<rect x="1332.2" y="-145" width="16.4" height="145" class="c"/><text class="bl" x="1340.4" y="-3" transform="translate(0,-145) scale(1,2.339)">145</text>
<rect x="1350.6" y="-104" width="16.4" height="104" class="b"/><text class="bl" x="1358.8" y="-3" transform="translate(0,-104) scale(1,2.339)">104</text>
<rect x="1368.9" y="-108" width="16.4" height="108" class="b"/><text class="bl" x="1377.1" y="-3" transform="translate(0,-108) scale(1,2.339)">108</text>
<rect x="1387.2" y="-128" width="16.4" height="128" class="c"/><text class="bl" x="1395.4" y="-3" transform="translate(0,-128) scale(1,2.339)">128</text>
</g>
</svg>
</body></html>
